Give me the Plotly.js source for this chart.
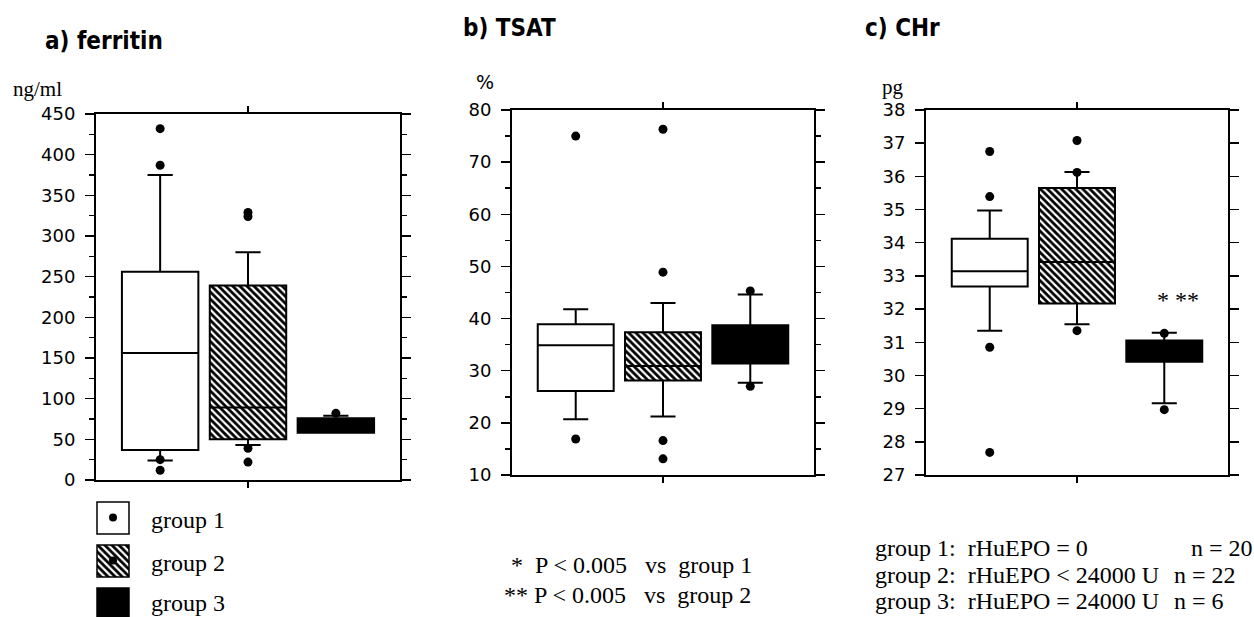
<!DOCTYPE html>
<html>
<head>
<meta charset="utf-8">
<script src="https://cdn.plot.ly/plotly-3.0.1.min.js"></script>
<style>html,body{margin:0;padding:0;background:#fff;}</style>
</head>
<body>
<div id="chart" style="width:1254px;height:617px;"></div>
<script>
// ---------------- data ----------------
const groups = ['group 1', 'group 2', 'group 3'];
const groupPos = [1, 2, 3];

// a) ferritin, ng/ml
const ferritinQ1     = [37, 50, 58];
const ferritinMedian = [156, 89, 65];
const ferritinQ3     = [256, 239, 76];
const ferritinLow    = [24, 43, 58];
const ferritinHigh   = [375, 280, 79];
const ferritinOutGroup = [1, 1, 1, 1, 2, 2, 2, 2, 3];
const ferritinOutliers = [432, 387, 25, 12, 329, 324, 39, 22, 82];

// b) TSAT, %
const tsatQ1     = [26.1, 28.1, 31.4];
const tsatMedian = [34.9, 30.9, 35.0];
const tsatQ3     = [38.9, 37.4, 38.7];
const tsatLow    = [20.7, 21.2, 27.7];
const tsatHigh   = [41.8, 43.0, 44.6];
const tsatOutGroup = [1, 1, 2, 2, 2, 2, 3, 3];
const tsatOutliers = [75.0, 16.9, 76.3, 48.9, 16.6, 13.1, 45.3, 27.0];

// c) CHr, pg
const chrQ1     = [32.68, 32.17, 30.41];
const chrMedian = [33.14, 33.42, 30.70];
const chrQ3     = [34.12, 35.65, 31.05];
const chrLow    = [31.35, 31.54, 29.16];
const chrHigh   = [34.97, 36.13, 31.29];
const chrOutGroup = [1, 1, 1, 1, 2, 2, 2, 3, 3];
const chrOutliers = [36.75, 35.39, 30.85, 27.68, 37.08, 36.12, 31.35, 31.27, 28.97];

// axis tick labels
const ferritinTicks = [0, 50, 100, 150, 200, 250, 300, 350, 400, 450];
const tsatTicks = [10, 20, 30, 40, 50, 60, 70, 80];
const chrTicks = [27, 28, 29, 30, 31, 32, 33, 34, 35, 36, 37, 38];

// texts
const panelTitles = ['a) ferritin', 'b) TSAT', 'c) CHr'];
const unitLabels = ['ng/ml', '%', 'pg'];
const sigNote = '*\u00a0**';
const pNotes = ['*\u00a0\u00a0P < 0.005\u00a0\u00a0\u00a0vs\u00a0\u00a0group 1',
                '**\u00a0P < 0.005\u00a0\u00a0\u00a0vs\u00a0\u00a0group 2'];
const doseNotes = ['group 1:\u00a0\u00a0rHuEPO = 0',
                   'group 2:\u00a0\u00a0rHuEPO < 24000 U',
                   'group 3:\u00a0\u00a0rHuEPO = 24000 U'];
const nNotes = ['n = 20', 'n = 22', 'n = 6'];

// ---------------- layout helpers ----------------
const W = 1254, H = 617;
const fx = px => px / W;
const fy = py => 1 - py / H;

const BOXW = 0.87;
const XR = [0.27, 3.73];
const serif = 'Liberation Serif, Times New Roman, serif';
const sans = 'DejaVu Sans, Verdana, sans-serif';
const heavy = 'DejaVu Sans Condensed, Liberation Sans Narrow, sans-serif';

const panels = [
  {q1: ferritinQ1, med: ferritinMedian, q3: ferritinQ3, lo: ferritinLow, hi: ferritinHigh,
   og: ferritinOutGroup, ov: ferritinOutliers, ticks: ferritinTicks, range: [0, 450], minor: 25,
   xd: [96, 400], yd: [114, 480]},
  {q1: tsatQ1, med: tsatMedian, q3: tsatQ3, lo: tsatLow, hi: tsatHigh,
   og: tsatOutGroup, ov: tsatOutliers, ticks: tsatTicks, range: [10, 80], minor: 5,
   xd: [512, 814], yd: [110, 475]},
  {q1: chrQ1, med: chrMedian, q3: chrQ3, lo: chrLow, hi: chrHigh,
   og: chrOutGroup, ov: chrOutliers, ticks: chrTicks, range: [27, 38], minor: null,
   xd: [926, 1228], yd: [110, 475]}
];

const fills = ['white', 'rgba(0,0,0,0)', 'black'];
const hatch = {shape: '\\', fgcolor: 'black', bgcolor: 'white', size: 5, solidity: 0.55};

const traces = [];
const layout = {
  width: W, height: H,
  margin: {l: 0, r: 0, t: 0, b: 0},
  paper_bgcolor: 'white', plot_bgcolor: 'white',
  showlegend: false, boxmode: 'overlay', barmode: 'overlay',
  annotations: []
};

panels.forEach((p, k) => {
  const sfx = k === 0 ? '' : String(k + 1);
  const xa = 'x' + sfx, ya = 'y' + sfx;
  // hatch fill for group 2 (drawn under the box outline)
  traces.push({
    type: 'bar', xaxis: xa, yaxis: ya,
    x: [groupPos[1]], base: [p.q1[1]], y: [p.q3[1] - p.q1[1]], width: [BOXW],
    marker: {color: 'white', pattern: hatch, line: {width: 0}},
    hoverinfo: 'skip'
  });
  groups.forEach((g, i) => {
    traces.push({
      type: 'box', name: g, xaxis: xa, yaxis: ya,
      x: [groupPos[i]], q1: [p.q1[i]], median: [p.med[i]], q3: [p.q3[i]],
      lowerfence: [p.lo[i]], upperfence: [p.hi[i]],
      width: BOXW, whiskerwidth: 0.33, boxpoints: false,
      fillcolor: fills[i], line: {color: 'black', width: 2}
    });
  });
  traces.push({
    type: 'scatter', mode: 'markers', xaxis: xa, yaxis: ya,
    x: p.og, y: p.ov, cliponaxis: false,
    marker: {color: 'black', size: 9}
  });
  layout['xaxis' + sfx] = {
    domain: [fx(p.xd[0]), fx(p.xd[1])], range: XR, anchor: ya,
    showline: true, linecolor: 'black', linewidth: 2, mirror: 'ticks',
    ticks: 'outside', tickvals: [2], ticklen: 6, tickwidth: 1.5, tickcolor: 'black',
    showticklabels: false, showgrid: false, zeroline: false, fixedrange: true
  };
  const yax = {
    domain: [fy(p.yd[1]), fy(p.yd[0])], range: p.range, anchor: xa,
    showline: true, linecolor: 'black', linewidth: 2, mirror: 'ticks',
    ticks: 'outside', tickvals: p.ticks, ticktext: p.ticks.map(String),
    ticklen: 9, tickwidth: 1.5, tickcolor: 'black', ticklabelstandoff: 6,
    tickfont: {family: sans, size: 18, color: 'black'},
    showgrid: false, zeroline: false, fixedrange: true
  };
  if (p.minor) {
    yax.minor = {dtick: p.minor, tick0: p.range[0], ticks: 'outside', ticklen: 5,
                 tickwidth: 1.5, tickcolor: 'black', showgrid: false};
  }
  layout['yaxis' + sfx] = yax;
});

// ---------------- key (legend) subplot, 1 unit = 1 px ----------------
const keyX = 113, keySize = 31, keyTop = 502, keyStep = 43;
layout.xaxis4 = {domain: [fx(90), fx(140)], range: [90, 140], visible: false, anchor: 'y4', fixedrange: true};
layout.yaxis4 = {domain: [0, fy(495)], range: [H, 495], visible: false, anchor: 'x4', fixedrange: true};
groups.forEach((g, i) => {
  const mk = i === 0 ? {color: 'white', line: {color: 'black', width: 1.5}}
           : i === 1 ? {color: 'white', pattern: hatch, line: {color: 'black', width: 1.5}}
           : {color: 'black', line: {color: 'black', width: 1.5}};
  traces.push({
    type: 'bar', xaxis: 'x4', yaxis: 'y4',
    x: [keyX], base: [keyTop + i * keyStep], y: [keySize + 1], width: [keySize + 1],
    marker: mk, hoverinfo: 'skip'
  });
});
traces.push({
  type: 'scatter', mode: 'markers', xaxis: 'x4', yaxis: 'y4',
  x: [keyX, keyX], y: [keyTop + keySize / 2, keyTop + keyStep + keySize / 2],
  marker: {color: 'black', size: 8}, hoverinfo: 'skip'
});

// ---------------- text ----------------
function ann(text, px, py, family, size, xanchor, extra) {
  layout.annotations.push(Object.assign({
    text: text, xref: 'paper', yref: 'paper', x: fx(px), y: fy(py),
    xanchor: xanchor || 'left', yanchor: 'middle', showarrow: false,
    font: {family: family, size: size, color: 'black'}, borderpad: 0
  }, extra || {}));
}
const titleFont = {family: heavy, size: 24, color: 'black', weight: 'bold'};
ann(panelTitles[0], 44, 41, heavy, 24, 'left', {font: titleFont});
ann(panelTitles[1], 462, 28, heavy, 24, 'left', {font: titleFont});
ann(panelTitles[2], 864, 28, heavy, 24, 'left', {font: titleFont});
// unit labels
ann(unitLabels[0], 12, 89, serif, 21);
ann(unitLabels[1], 475, 82, sans, 19);
ann(unitLabels[2], 881, 87, serif, 21);
// significance marker in panel c
layout.annotations.push({
  text: sigNote, xref: 'x3', yref: 'y3', x: 3.16, y: 32.27,
  xanchor: 'center', yanchor: 'middle', showarrow: false,
  font: {family: serif, size: 24, color: 'black'}
});
// key texts
const keyTextY = [520, 563, 603];
groups.forEach((g, i) => ann(g, 150, keyTextY[i], serif, 24));
// p-value notes
ann(pNotes[0], 510, 565, serif, 24);
ann(pNotes[1], 503, 595, serif, 24);
// dose notes
const doseY = [548, 575, 601];
doseNotes.forEach((t, i) => ann(t, 874, doseY[i], serif, 24));
const nX = [1190, 1173, 1173];
nNotes.forEach((t, i) => ann(t, nX[i], doseY[i], serif, 24));

Plotly.newPlot('chart', traces, layout, {displayModeBar: false, staticPlot: true});
</script>
</body>
</html>
